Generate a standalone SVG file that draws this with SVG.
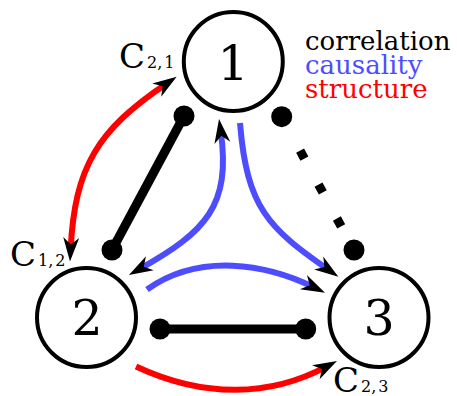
<svg xmlns="http://www.w3.org/2000/svg" width="457" height="396" viewBox="0 0 457 396">
<style>
text{font-family:"DejaVu Serif","Liberation Serif",serif;}
.node circle{fill:#fff;stroke:#000;stroke-width:4;}
.node text{font-size:49px;text-anchor:middle;fill:#000;}
.corr{stroke:#000;stroke-width:9;fill:none;}
.dot{fill:#000;}
.caus{stroke:#4d4dff;stroke-width:6;fill:none;}
.struct{stroke:#ff0000;stroke-width:6;fill:none;}
.lab{fill:#000;}
</style>
<defs>
<marker id="ah" markerUnits="userSpaceOnUse" viewBox="-13 -10 26 20" refX="0" refY="0" markerWidth="26" markerHeight="20" orient="auto-start-reverse" overflow="visible">
<path d="M12,0 L-12,-8 L-5,0 L-12,8 Z" fill="#000"/>
</marker>
</defs>
<g id="connectors">
<!-- correlation -->
<line class="corr" x1="184" y1="116" x2="112" y2="250"/>
<circle class="dot" cx="184" cy="116" r="10.5"/>
<circle class="dot" cx="112" cy="250" r="10.5"/>
<line class="corr" x1="160" y1="329" x2="305.7" y2="329"/>
<circle class="dot" cx="160" cy="329" r="10.5"/>
<circle class="dot" cx="305.7" cy="329" r="10.5"/>
<line class="corr" x1="281.7" y1="116.7" x2="354" y2="250" stroke-dasharray="9 29.6"/>
<circle class="dot" cx="281.7" cy="116.7" r="10.5"/>
<circle class="dot" cx="354" cy="250" r="10.5"/>
<!-- causality -->
<path class="caus" d="M220.7,130.9 C231.3,206.1 205.6,231.9 139.4,269.1" marker-start="url(#ah)" marker-end="url(#ah)"/>
<path class="caus" d="M240,123 C246.8,208 268.6,228.2 328.5,269.9" marker-end="url(#ah)"/>
<path class="caus" d="M147,289.5 C200.2,252.2 266.5,264.1 314.2,287.4" marker-end="url(#ah)"/>
<!-- structure -->
<path class="struct" d="M70.6,249.5 C74.8,166.5 97.8,129.9 166.7,83.4" marker-start="url(#ah)" marker-end="url(#ah)"/>
<path class="struct" d="M136,366.5 C204.4,398.4 270.1,396.7 326.4,366.6" marker-end="url(#ah)"/>
</g>
<g id="node1" class="node"><circle cx="233.3" cy="61.5" r="49.5"/><text x="233" y="80">1</text></g>
<g id="node2" class="node"><circle cx="86.5" cy="317.5" r="49.5"/><text x="87" y="335">2</text></g>
<g id="node3" class="node"><circle cx="379" cy="317.5" r="49.5"/><text x="379" y="335">3</text></g>
<g id="labels">
<text class="lab" x="119" y="68"><tspan font-size="34">C</tspan><tspan font-size="16" dx="2">2,</tspan><tspan font-size="16" dx="2">1</tspan></text>
<text class="lab" x="10" y="266"><tspan font-size="34">C</tspan><tspan font-size="16" dx="2">1,</tspan><tspan font-size="16" dx="2">2</tspan></text>
<text class="lab" x="333" y="392"><tspan font-size="34">C</tspan><tspan font-size="16" dx="2">2,</tspan><tspan font-size="16" dx="2">3</tspan></text>
</g>
<g id="legend" font-size="26">
<text x="305" y="50" fill="#000">correlation</text>
<text x="305" y="74" fill="#4d4dff">causality</text>
<text x="305" y="98" fill="#ff0000">structure</text>
</g>
</svg>
